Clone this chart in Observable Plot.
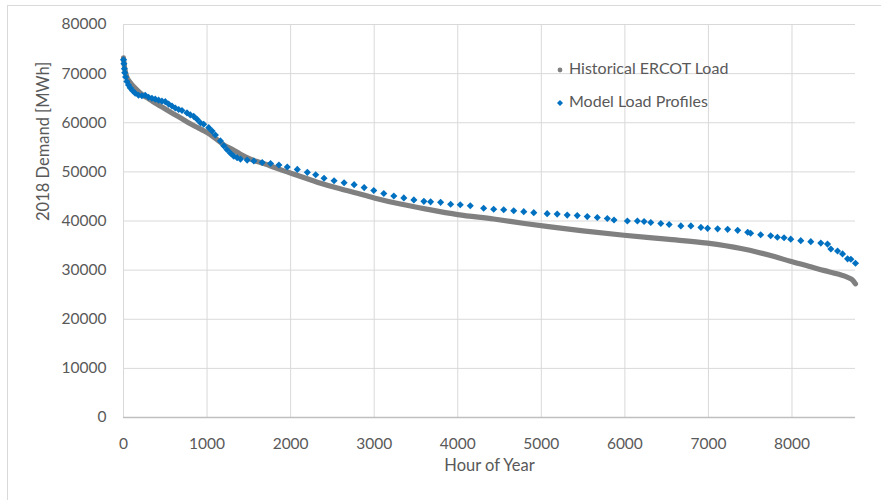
<!DOCTYPE html>
<html><head><meta charset="utf-8">
<script src="https://cdn.jsdelivr.net/npm/d3@7"></script>
<script src="https://cdn.jsdelivr.net/npm/@observablehq/plot@0.6"></script>
<style>
html,body{margin:0;padding:0;background:#fff;}
#wrap{position:relative;width:881px;height:500px;overflow:hidden;font-family:Lato,"Open Sans",sans-serif;}
#frameTop{position:absolute;left:7px;top:5px;right:0;height:0;border-top:1px solid #d9d9d9;}
#frameLeft{position:absolute;left:7px;top:5px;bottom:0;width:0;border-left:1px solid #d9d9d9;}
.leg{position:absolute;left:555px;font-size:16px;color:#595959;line-height:20px;white-space:nowrap;}
.leg svg{vertical-align:middle;margin-right:4px;}
</style>
</head><body>
<div id="wrap">
<div id="frameTop"></div><div id="frameLeft"></div>
<div id="chart"></div>
</div>
<script>
// Historical ERCOT load duration curve
const histHours = [0,15,40,80,160,240,300,400,500,600,700,800,900,1000,1100,1200,1300,1400,1520,1640,1760,1920,2060,2200,2360,2560,2760,3000,3300,3630,4000,4430,4800,5110,5500,5990,6500,6990,7390,7600,7800,7980,8200,8390,8550,8670,8730,8760];
const histLoad  = [73200,71000,69300,68200,66700,65500,64900,63800,62800,61800,60800,59800,58900,58000,56800,55500,54600,53600,52600,51900,51200,50200,49400,48600,47700,46700,45800,44700,43500,42400,41300,40400,39500,38800,38000,37100,36300,35500,34400,33600,32700,31800,30800,29900,29200,28500,27900,27200];

// Model load profiles (diamond markers)
const modelHours = [0,5,10,15,25,40,60,80,110,140,180,220,260,300,340,380,420,460,500,540,580,620,660,700,760,800,840,880,920,960,1020,1060,1100,1160,1200,1240,1280,1320,1360,1400,1480,1560,1660,1760,1860,1960,2080,2200,2300,2400,2520,2640,2760,2880,2995,3115,3235,3355,3475,3595,3675,3795,3915,4030,4150,4310,4430,4550,4670,4790,4910,5070,5190,5310,5430,5550,5670,5790,5870,6030,6150,6230,6310,6430,6530,6670,6790,6910,6990,7110,7230,7350,7470,7505,7625,7745,7825,7905,7985,8105,8225,8345,8425,8465,8545,8605,8665,8705,8760];
const modelLoad  = [72800,72000,71000,70200,69300,68400,67700,67100,66500,66000,65600,65500,65600,65200,65000,64800,64600,64400,64300,63800,63400,63000,62700,62500,62000,61600,61300,60700,60000,59700,59000,58300,57500,56300,55300,54500,53800,53200,52900,52600,52400,52200,51900,51700,51400,51000,50500,49900,49400,48700,48200,47800,47400,46800,46200,45600,45100,44700,44300,44000,43900,43800,43400,43300,43100,42600,42400,42300,42100,41900,41700,41500,41400,41200,41100,40900,40700,40500,40200,40000,40000,39900,39700,39500,39300,39000,39000,38700,38500,38400,38300,38100,37700,37500,37200,37000,36700,36600,36300,36000,35800,35500,35300,34300,33900,33300,32300,32200,31400];

const xTicks = [0,1000,2000,3000,4000,5000,6000,7000,8000];
const yTicks = [0,10000,20000,30000,40000,50000,60000,70000,80000];
const seriesNames = ["Historical ERCOT Load","Model Load Profiles"];
const seriesColors = ["#808080","#0070c0"];
const xTitle = "Hour of Year";
const yTitle = "2018 Demand [MWh]";

const hist = histHours.map((h,i)=>({hour:h, load:histLoad[i]}));
const model = modelHours.map((h,i)=>({hour:h, load:modelLoad[i]}));

const chart = Plot.plot({
  width: 881, height: 500,
  marginLeft: 123, marginRight: 26, marginTop: 24, marginBottom: 83,
  style: {fontFamily: "Lato, 'Open Sans', sans-serif", fontSize: "15.5px", color: "#595959", background: "transparent"},
  x: {domain: [0, 8760], label: null},
  y: {domain: [0, 80000], label: null},
  marks: [
    Plot.gridX(xTicks, {stroke: "#d9d9d9", strokeOpacity: 1, strokeWidth: 1}),
    Plot.gridY(yTicks.filter(d => d > 0), {stroke: "#d9d9d9", strokeOpacity: 1, strokeWidth: 1}),
    Plot.ruleY([0], {stroke: "#bfbfbf", strokeWidth: 1.3}),
    Plot.axisX(xTicks, {tickSize: 0, tickPadding: 20, tickFormat: d => String(d), fill: "#595959"}),
    Plot.axisY(yTicks, {tickSize: 0, tickPadding: 17, tickFormat: d => String(d), fill: "#595959"}),
    Plot.line(hist, {x: "hour", y: "load", stroke: seriesColors[0], strokeWidth: 5.2, curve: "monotone-x", strokeLinecap: "round"}),
    Plot.dot(model, {x: "hour", y: "load", symbol: "diamond2", r: 3.2, fill: seriesColors[1], stroke: null}),
    Plot.text([xTitle], {frameAnchor: "bottom", dy: 53, fontSize: 16.5, fill: "#595959"}),
    Plot.text([yTitle], {frameAnchor: "left", dx: -80, rotate: -90, fontSize: 16.5, fill: "#595959"})
  ]
});
document.getElementById("chart").appendChild(chart);

// legend
const wrap = document.getElementById("wrap");
const legTops = [58, 91];
seriesNames.forEach((name, i) => {
  const div = document.createElement("div");
  div.className = "leg";
  div.style.top = legTops[i] + "px";
  const marker = i === 0
    ? `<svg width="10" height="10"><circle cx="5" cy="5" r="2.4" fill="${seriesColors[0]}"/></svg>`
    : `<svg width="10" height="10"><path d="M5,2L8,5L5,8L2,5Z" fill="${seriesColors[1]}"/></svg>`;
  div.innerHTML = marker + name;
  wrap.appendChild(div);
});
</script>
</body></html>
